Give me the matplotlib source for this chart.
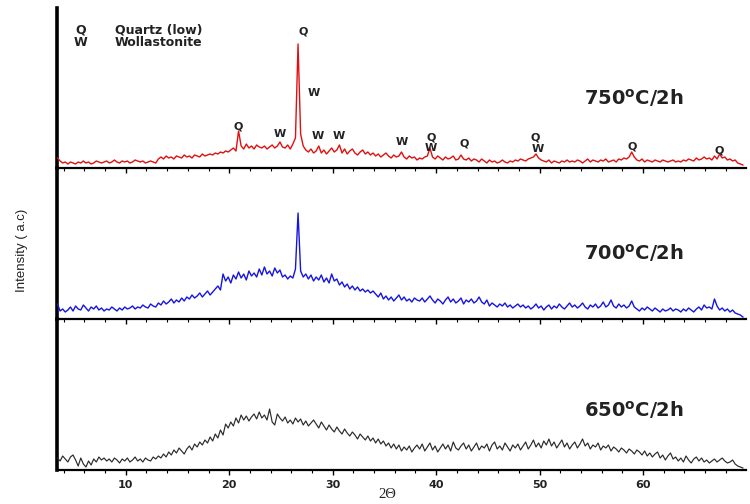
import numpy as np
import matplotlib
matplotlib.use("Agg")
import matplotlib.pyplot as plt
from matplotlib.ticker import MultipleLocator

plt.rcParams['font.family'] = ['DejaVu Sans']
plt.rcParams['mathtext.fontset'] = 'custom'
plt.rcParams['mathtext.bf'] = 'DejaVu Sans:bold'
plt.rcParams['mathtext.rm'] = 'DejaVu Sans'

# 2-theta grid: 3.4 .. 69.65 in 0.25 degree steps
two_theta_start = 3.4
two_theta_step = 0.25

# Intensities (arbitrary units, above each pattern's own baseline)
i_750 = [
    10, 7, 5, 6, 4, 6, 5, 4, 6, 5, 7, 5, 6, 4, 5, 7, 6, 5, 6, 7,
    5, 6, 8, 6, 5, 7, 6, 7, 5, 6, 8, 7, 6, 7, 5, 6, 7, 6, 5, 9,
    11, 9, 12, 10, 11, 9, 12, 11, 10, 13, 11, 12, 10, 13, 12, 11, 14, 12, 13, 14,
    13, 15, 14, 16, 15, 17, 16, 18, 20, 17, 37, 22, 19, 24, 20, 22, 19, 23, 21, 20,
    22, 19, 21, 23, 20, 22, 26, 21, 20, 23, 19, 24, 30, 124, 34, 22, 18, 16, 19, 15,
    17, 22, 15, 18, 14, 17, 20, 16, 18, 23, 15, 19, 14, 17, 19, 15, 13, 16, 18, 14,
    16, 13, 15, 12, 14, 11, 13, 15, 12, 10, 13, 11, 12, 16, 11, 9, 12, 10, 11, 8,
    10, 9, 11, 12, 20, 11, 9, 12, 10, 8, 11, 9, 10, 12, 8, 9, 13, 9, 8, 10,
    7, 9, 8, 6, 9, 7, 5, 8, 6, 7, 5, 6, 8, 6, 5, 7, 6, 8, 7, 9,
    8, 7, 9, 10, 11, 14, 10, 8, 7, 6, 8, 5, 7, 6, 5, 7, 6, 8, 6, 7,
    6, 8, 7, 5, 7, 9, 6, 8, 7, 6, 8, 7, 9, 6, 7, 8, 6, 9, 8, 10,
    9, 11, 16, 11, 8, 7, 9, 6, 8, 7, 6, 8, 7, 6, 8, 7, 6, 7, 8, 6,
    7, 6, 8, 7, 9, 8, 7, 10, 8, 9, 11, 9, 10, 8, 12, 9, 14, 10, 11, 8,
    9, 7, 8, 5, 4, 3,
]

i_700 = [
    15, 8, 10, 7, 9, 12, 8, 13, 10, 9, 14, 11, 8, 12, 10, 13, 9, 11, 8, 10,
    9, 12, 10, 8, 11, 9, 12, 10, 11, 13, 10, 12, 11, 14, 12, 11, 15, 13, 12, 16,
    14, 18, 15, 17, 20, 16, 19, 17, 21, 18, 22, 20, 24, 21, 23, 26, 22, 25, 28, 24,
    27, 30, 33, 29, 45, 38, 42, 36, 44, 40, 47, 41, 45, 39, 48, 43, 46, 42, 50, 44,
    52, 45, 48, 43, 51, 46, 49, 42, 44, 40, 43, 41, 50, 106, 48, 42, 45, 40, 44, 38,
    42, 39, 44, 37, 41, 36, 45, 38, 40, 34, 37, 32, 35, 30, 33, 29, 32, 28, 30, 27,
    29, 26, 28, 25, 22, 26, 20, 23, 19, 22, 18, 21, 24, 19, 22, 18, 20, 17, 21, 19,
    18, 21, 17, 20, 23, 19, 16, 20, 18, 15, 19, 22, 17, 20, 16, 18, 21, 15, 19, 17,
    20, 16, 18, 22, 17, 15, 19, 13, 16, 14, 12, 15, 13, 16, 12, 14, 11, 13, 15, 12,
    14, 11, 13, 10, 12, 15, 11, 13, 9, 12, 14, 10, 13, 11, 15, 12, 10, 13, 16, 12,
    14, 11, 13, 16, 12, 10, 14, 12, 15, 11, 13, 17, 12, 14, 19, 13, 11, 15, 12, 14,
    11, 13, 18, 12, 10, 8, 11, 9, 12, 10, 8, 11, 9, 7, 10, 8, 9, 11, 8, 10,
    9, 7, 10, 8, 11, 9, 7, 10, 12, 9, 14, 11, 12, 10, 20, 13, 9, 11, 8, 10,
    7, 9, 6, 5, 4, 2,
]

i_650 = [
    12, 9, 14, 11, 8, 13, 15, 10, 4, 12, 6, 3, 9, 5, 11, 8, 13, 10, 12, 9,
    11, 8, 12, 10, 7, 11, 9, 12, 8, 10, 13, 9, 11, 8, 12, 10, 9, 13, 11, 14,
    12, 16, 13, 18, 15, 20, 17, 22, 19, 16, 21, 24, 20, 26, 23, 28, 25, 30, 27, 33,
    29, 36, 32, 40, 35, 46, 42, 48, 44, 52, 47, 55, 50, 54, 49, 53, 56, 51, 58, 52,
    55, 50, 61, 48, 45, 56, 52, 49, 53, 47, 50, 46, 52, 48, 51, 45, 49, 44, 47, 50,
    46, 42, 48, 44, 40, 45, 41, 38, 43, 39, 36, 41, 37, 34, 38, 35, 31, 36, 33, 30,
    34, 29, 32, 27, 31, 26, 29, 24, 27, 22, 26, 21, 25, 19, 23, 20, 24, 18, 22, 25,
    21, 26, 19, 23, 27, 20, 24, 18, 22, 26, 21, 25, 19, 28, 22, 20, 24, 27, 21, 25,
    19, 23, 27, 20, 24, 22, 26, 19, 25, 28, 21, 24, 20, 27, 23, 19, 25, 22, 26, 20,
    24, 28, 21, 25, 30, 23, 27, 22, 29, 25, 31, 24, 28, 22, 26, 30, 23, 27, 21, 25,
    28, 22, 26, 31, 24, 27, 21, 25, 23, 27, 20, 24, 22, 25, 19, 23, 21, 18, 22, 20,
    17, 21, 19, 16, 20, 18, 15, 19, 14, 17, 13, 16, 18, 12, 15, 10, 14, 17, 11, 13,
    9, 12, 8, 14, 10, 7, 11, 13, 9, 12, 8, 10, 7, 9, 11, 8, 10, 12, 9, 7,
    8, 10, 6, 4, 3, 2,
]

sample_labels = [r'750$^\mathbf{o}$C/2h', r'700$^\mathbf{o}$C/2h', r'650$^\mathbf{o}$C/2h']
sample_colors = ['#e01010', '#1515e0', '#2a2a2a']
sample_widths = [1.0, 1.0, 0.85]

# phase markers on the 750 C pattern
peak_text = ['Q', 'W', 'Q', 'W', 'W', 'W', 'W', 'Q', 'W', 'Q', 'Q', 'W', 'Q', 'Q']
peak_theta = [27.1, 28.2, 20.9, 24.9, 28.6, 30.6, 36.7, 39.5, 39.5, 42.7, 49.6, 49.8, 58.9, 67.4]
peak_level = [136, 75, 41, 34, 32, 32, 26, 30, 20, 24, 30, 19, 21, 17]

legend_codes = ['Q', 'W']
legend_names = ['Quartz (low)', 'Wollastonite']

x_ticks = [10, 20, 30, 40, 50, 60]

W, H = 750, 504
fig = plt.figure(figsize=(W / 100, H / 100), dpi=100)

left = 57.5 / W
width = 688 / W
panels = [(8, 168), (168, 319), (319, 470)]  # top, baseline in pixels
series = [i_750, i_700, i_650]
axes = []
for k, (top, base) in enumerate(panels):
    ax = fig.add_axes([left, 1 - base / H, width, (base - top) / H])
    ax.patch.set_alpha(0)
    y = np.array(series[k], dtype=float)
    x = two_theta_start + two_theta_step * np.arange(len(y))
    ax.plot(x, y, color=sample_colors[k], lw=sample_widths[k], zorder=3)
    ax.set_xlim(3.4, 69.9)
    ax.set_ylim(0, base - top)
    for s in ['top', 'right']:
        ax.spines[s].set_visible(False)
    ax.spines['left'].set_linewidth(2.6)
    ax.spines['bottom'].set_linewidth(1.6)
    ax.set_yticks([])
    ax.xaxis.set_major_locator(MultipleLocator(10))
    ax.xaxis.set_minor_locator(MultipleLocator(2))
    ax.tick_params(axis='x', which='major', direction='out', length=3.5, width=1.0, pad=4)
    ax.tick_params(axis='x', which='minor', direction='out', length=2.5, width=0.8)
    if k < 2:
        ax.set_xticklabels([])
    else:
        ax.set_xticks(x_ticks)
        ax.set_xticklabels([str(t) for t in x_ticks], fontsize=8, fontweight='bold',
                           color='#222222')
    axes.append(ax)

# sample labels
label_y_px = [98, 253, 410]
for k in range(3):
    fig.text(634 / W, 1 - label_y_px[k] / H, sample_labels[k],
             ha='center', va='center', fontsize=14, fontweight='bold', color='#222222')

# phase markers
for t, th, lv in zip(peak_text, peak_theta, peak_level):
    axes[0].text(th, lv, t, ha='center', va='center', fontsize=8, fontweight='bold',
                 color='#222222')

# legend block
for j, (c, n) in enumerate(zip(legend_codes, legend_names)):
    fig.text(81 / W, 1 - (30 + 13 * j) / H, c, ha='center', va='center', fontsize=9,
             fontweight='bold', color='#222222')
    fig.text(115 / W, 1 - (30 + 13 * j) / H, n, ha='left', va='center', fontsize=9,
             fontweight='bold', color='#222222')

fig.text(22 / W, 1 - 250 / H, 'Intensity ( a.c)', rotation=90, ha='center', va='center',
         fontsize=9.5, family=['Liberation Sans', 'DejaVu Sans'], color='#222222')
fig.text(387 / W, 1 - 495 / H, '2\u0398', ha='center', va='center', fontsize=10.5,
         family=['Liberation Serif', 'DejaVu Serif'], color='#222222')

fig.savefig('out.png', dpi=100)
